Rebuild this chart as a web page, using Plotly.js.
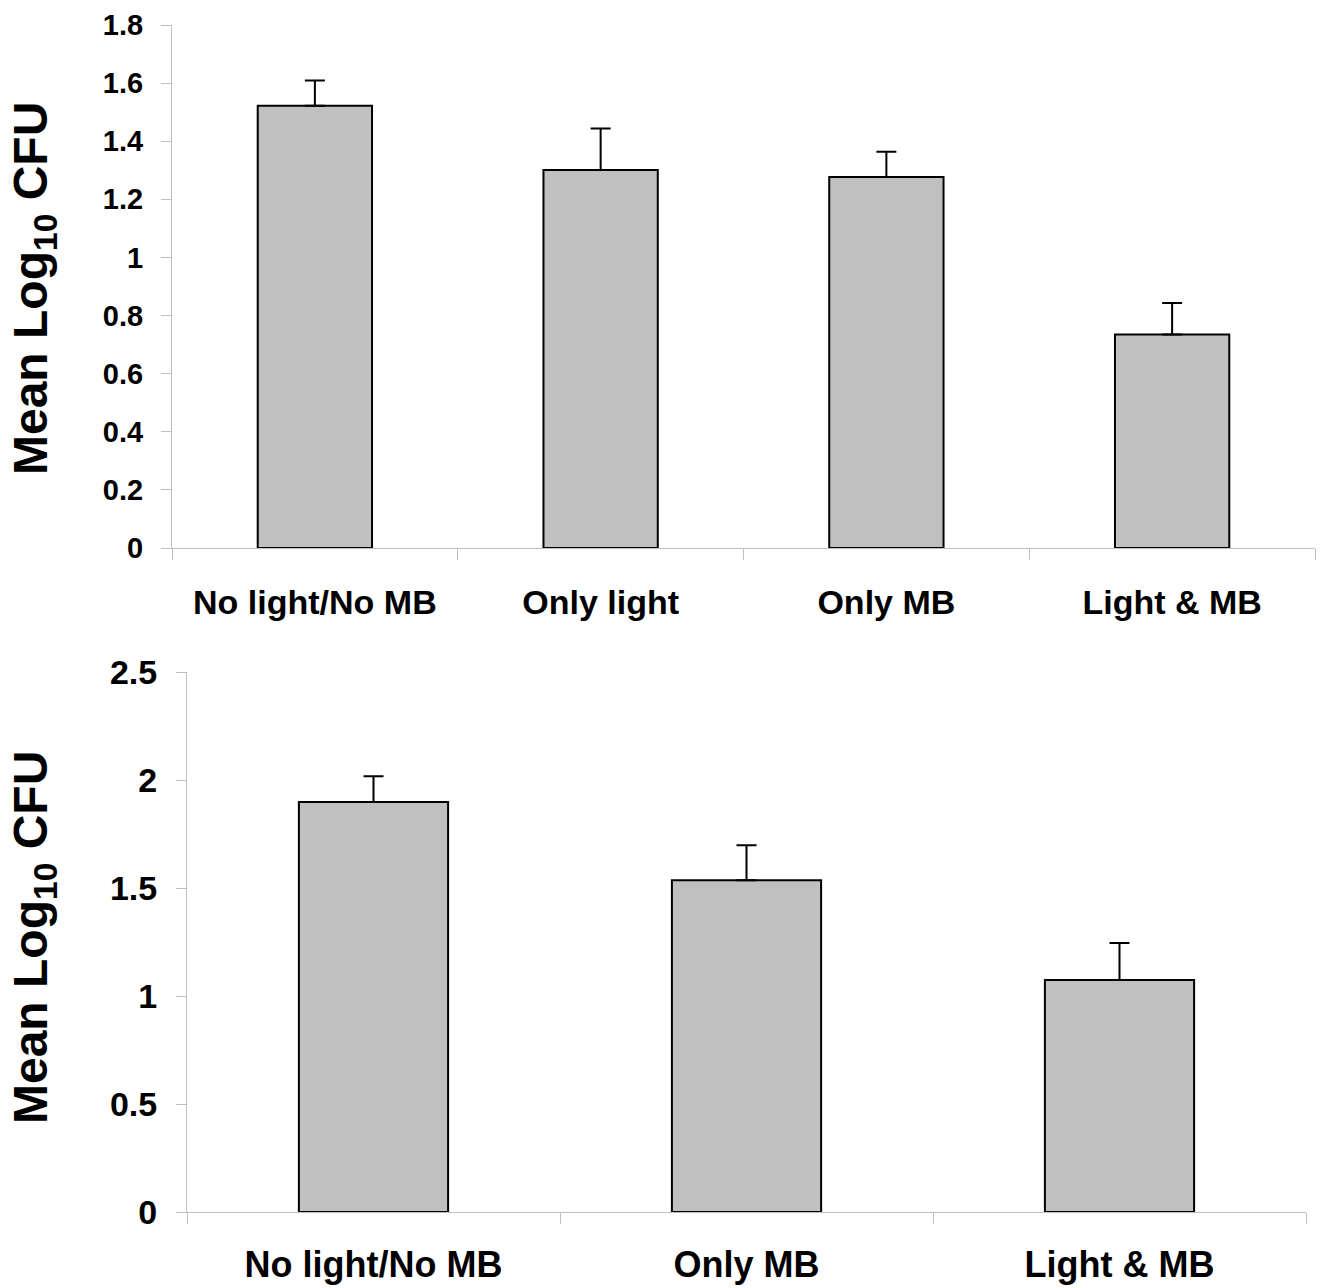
<!DOCTYPE html>
<html>
<head>
<meta charset="utf-8">
<script src="https://cdn.plot.ly/plotly-3.0.1.min.js"></script>
<style>html,body{margin:0;padding:0;background:#fff;}#chart{width:1323px;height:1288px;}</style>
</head>
<body>
<div id="chart"></div>
<script>
// Top panel data
const topCategories = ['No light/No MB', 'Only light', 'Only MB', 'Light & MB'];
const topMeans = [1.522, 1.301, 1.277, 0.735];
const topErrors = [0.087, 0.143, 0.087, 0.108];

// Bottom panel data
const bottomCategories = ['No light/No MB', 'Only MB', 'Light & MB'];
const bottomMeans = [1.898, 1.536, 1.074];
const bottomErrors = [0.119, 0.162, 0.171];

const yTitle = 'Mean Log<sub>10</sub> CFU';
const FONT = 'Liberation Sans, Arial, Helvetica, sans-serif';
const AXIS_GRAY = '#bfbfbf';

function barTrace(cats, vals, errs, xa, ya) {
  return {
    type: 'bar', x: cats, y: vals, xaxis: xa, yaxis: ya, width: 0.4,
    marker: {color: '#c0c0c0', line: {color: '#000', width: 2}},
    error_y: {type: 'data', symmetric: false, array: errs, arrayminus: errs.map(() => 0),
              color: '#000', thickness: 2, width: 10},
    hoverinfo: 'none', showlegend: false
  };
}

const data = [
  barTrace(topCategories, topMeans, topErrors, 'x', 'y'),
  barTrace(bottomCategories, bottomMeans, bottomErrors, 'x2', 'y2')
];

function xAxis(domain, anchor, size, standoff) {
  return {
    domain: domain, anchor: anchor, type: 'category',
    showline: true, linecolor: AXIS_GRAY, linewidth: 1, layer: 'below traces',
    ticks: 'outside', tickson: 'boundaries', ticklen: 11, tickcolor: AXIS_GRAY, tickwidth: 1,
    showgrid: false, zeroline: false, fixedrange: true,
    tickfont: {family: FONT, size: size, color: '#000', weight: 'bold'},
    ticklabelstandoff: standoff
  };
}
function yAxis(domain, anchor, range, dtick, size, standoff) {
  return {
    domain: domain, anchor: anchor, range: range, dtick: dtick, tick0: 0,
    showline: true, linecolor: AXIS_GRAY, linewidth: 1, layer: 'below traces',
    ticks: 'outside', ticklen: 10, tickcolor: AXIS_GRAY, tickwidth: 1,
    showgrid: false, zeroline: false, fixedrange: true,
    tickfont: {family: FONT, size: size, color: '#000', weight: 'bold'},
    ticklabelstandoff: standoff
  };
}

function yTitleAnn(yCenterPx) {
  return {
    text: yTitle, textangle: -90, showarrow: false,
    xref: 'paper', yref: 'paper', x: 34/1323, y: 1 - yCenterPx/1288,
    xanchor: 'center', yanchor: 'middle',
    font: {family: FONT, size: 48, color: '#000', weight: 'bold'}
  };
}

const layout = {
  width: 1323, height: 1288,
  margin: {l: 0, r: 0, t: 0, b: 0},
  paper_bgcolor: '#fff', plot_bgcolor: '#fff',
  showlegend: false, bargap: 0.6,
  xaxis: xAxis([172/1323, 1315/1323], 'y', 34, 24),
  yaxis: yAxis([740/1288, 1263/1288], 'x', [0, 1.8], 0.2, 29, 12),
  xaxis2: xAxis([187/1323, 1306/1323], 'y2', 36, 21),
  yaxis2: yAxis([76/1288, 616/1288], 'x2', [0, 2.5], 0.5, 34, 12),
  annotations: [yTitleAnn(289), yTitleAnn(938)]
};

Plotly.newPlot('chart', data, layout, {displayModeBar: false, staticPlot: true});
</script>
</body>
</html>
